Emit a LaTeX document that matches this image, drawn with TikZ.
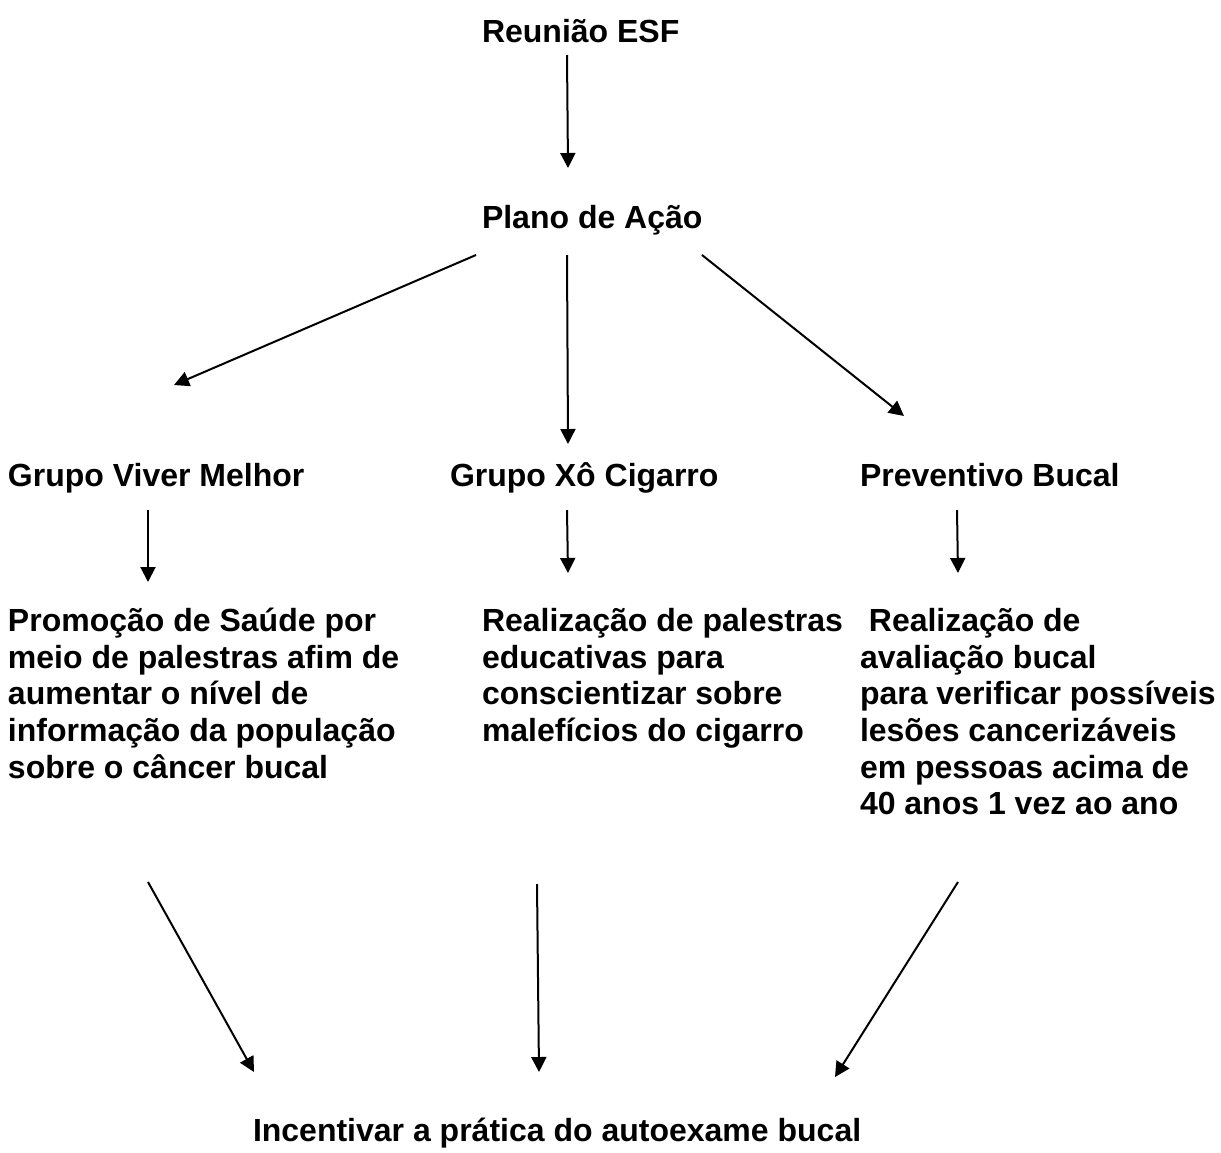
\documentclass[tikz,border=0pt]{standalone}
\usepackage{fontspec}
\setmainfont{Liberation Sans}
\usetikzlibrary{arrows.meta}
\begin{document}
\begin{tikzpicture}[x=1pt,y=-1pt,
  txt/.style={font=\bfseries\fontsize{32}{36.6}\selectfont, inner sep=0pt, outer sep=0pt, anchor=north west, align=left},
  arr/.style={line width=2pt, -{Triangle[length=15pt,width=15pt]}}]
\useasboundingbox[fill=white] (0,0) rectangle (1221,1152);
\node[txt] (reuniao) at (482,16.5) {\strut Reunião ESF};
\node[txt] (plano) at (482,202.5) {\strut Plano de Ação};
\node[txt] (gvm) at (8,460.5) {\strut Grupo Viver Melhor};
\node[txt] (gxc) at (450,460.5) {\strut Grupo Xô Cigarro};
\node[txt] (pb) at (860,460.5) {\strut Preventivo Bucal};
\node[txt] (b1) at (8,606) {\strut Promoção de Saúde por\\meio de palestras afim de\\aumentar o nível de\\informação da população\\sobre o câncer bucal};
\node[txt] (b2) at (482,606) {\strut Realização de palestras\\educativas para\\conscientizar sobre\\malefícios do cigarro};
\node[txt] (b3) at (860,606) {\strut\ Realização de\\avaliação bucal\\para verificar possíveis\\lesões cancerizáveis\\em pessoas acima de\\40 anos 1 vez ao ano};
\node[txt] (inc) at (253,1115.5) {\strut Incentivar a prática do autoexame bucal};
\draw[arr] ([shift={(85,38.5)}]reuniao.north west) -- ([shift={(86,-34.5)}]plano.north west);
\draw[arr] ([shift={(-6,52.5)}]plano.north west) -- ([shift={(166,-75.5)}]gvm.north west);
\draw[arr] ([shift={(85,52.5)}]plano.north west) -- ([shift={(118,-16.5)}]gxc.north west);
\draw[arr] ([shift={(220,52.5)}]plano.north west) -- ([shift={(44,-44.5)}]pb.north west);
\draw[arr] ([shift={(140,49.5)}]gvm.north west) -- ([shift={(140,-24)}]b1.north west);
\draw[arr] ([shift={(117,49.5)}]gxc.north west) -- ([shift={(86,-33)}]b2.north west);
\draw[arr] ([shift={(97,49.5)}]pb.north west) -- ([shift={(98,-33)}]b3.north west);
\draw[arr] ([shift={(140,276)}]b1.north west) -- ([shift={(1,-43.5)}]inc.north west);
\draw[arr] ([shift={(55,278)}]b2.north west) -- ([shift={(286,-43.5)}]inc.north west);
\draw[arr] ([shift={(98,276)}]b3.north west) -- ([shift={(582,-38.5)}]inc.north west);
\end{tikzpicture}
\end{document}
